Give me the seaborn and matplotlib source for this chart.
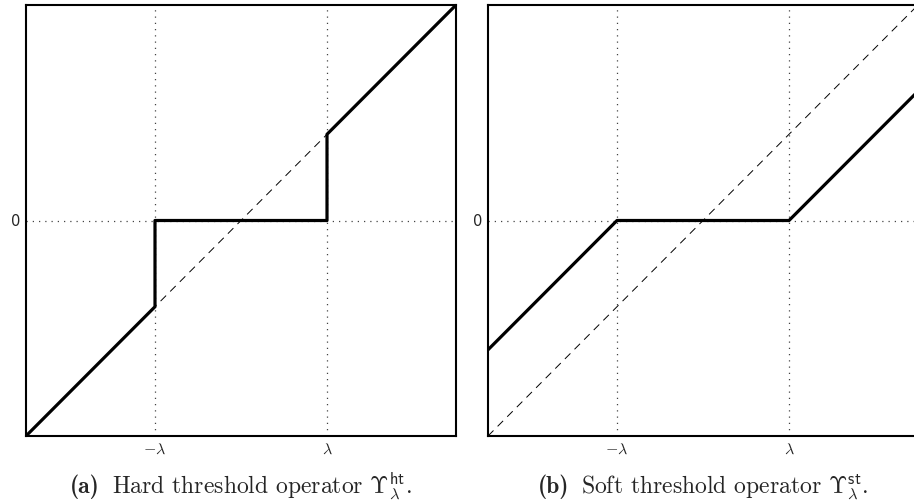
import numpy as np
import pandas as pd
import matplotlib
matplotlib.use("Agg")
import matplotlib.pyplot as plt
import seaborn as sns

# Threshold parameter and plotted input range
lam = 1.0
x_lo, x_hi = -2.5, 2.5

# Hard threshold operator: breakpoints of the piecewise curve
hard_x = [-2.5, -1.0, -1.0, 1.0, 1.0, 2.5]
hard_y = [-2.5, -1.0, 0.0, 0.0, 1.0, 2.5]

# Soft threshold operator: breakpoints of the piecewise curve
soft_x = [-2.5, -1.0, 1.0, 2.5]
soft_y = [-1.5, 0.0, 0.0, 1.5]

# Identity reference line
ident_x = [-2.5, 2.5]
ident_y = [-2.5, 2.5]

xtick_vals = [-lam, lam]
xtick_labels = [r"$-\lambda$", r"$\lambda$"]
ytick_vals = [0]
ytick_labels = ["0"]

caption_tags = ["(a)", "(b)"]
caption_texts = [
    r"Hard threshold operator $\Upsilon^{\mathsf{ht}}_{\lambda}$.",
    r"Soft threshold operator $\Upsilon^{\mathsf{st}}_{\lambda}$.",
]

sns.set_style("white")
plt.rcParams["mathtext.fontset"] = "cm"
plt.rcParams["font.family"] = ["DejaVu Sans"]
plt.rcParams["axes.unicode_minus"] = False

W, H = 914, 501
fig = plt.figure(figsize=(W / 100, H / 100), dpi=100)

panels = [
    (26, pd.DataFrame({"x": hard_x, "y": hard_y})),
    (488, pd.DataFrame({"x": soft_x, "y": soft_y})),
]
top_px, bot_px, size_px = 5, 436, 430

cap_pairs = []
for i, (left_px, df) in enumerate(panels):
    ax = fig.add_axes([left_px / W, (H - bot_px) / H, size_px / W, (bot_px - top_px) / H])
    ax.set_xlim(x_lo, x_hi)
    ax.set_ylim(x_lo, x_hi)

    # dotted guide lines at the thresholds and zero
    for xv in xtick_vals:
        ax.axvline(xv, color="#444444", lw=0.9, ls=(0, (1, 4)), zorder=1)
    ax.axhline(0, color="#444444", lw=0.9, ls=(0, (1, 4)), zorder=1)

    ident = pd.DataFrame({"x": ident_x, "y": ident_y})
    sns.lineplot(data=ident, x="x", y="y", ax=ax, color="black", lw=0.7,
                 estimator=None, sort=False, zorder=2)
    ax.lines[-1].set_linestyle((0, (8, 6)))
    sns.lineplot(data=df, x="x", y="y", ax=ax, color="black", lw=2.3,
                 estimator=None, sort=False, zorder=3)

    ax.set_xticks(xtick_vals)
    ax.set_xticklabels(xtick_labels, fontsize=11.5)
    ax.set_yticks(ytick_vals)
    ax.set_yticklabels(ytick_labels, fontsize=10.5)
    ax.tick_params(direction="in", length=4, width=0.8, color="black", pad=4)
    ax.set_xlabel("")
    ax.set_ylabel("")
    for sp in ax.spines.values():
        sp.set_color("black")
        sp.set_linewidth(1.5)

    # caption: bold tag followed by roman text, centred under the panel
    t1 = fig.text(0, 0, caption_tags[i], family="cmb10", fontsize=17,
                  ha="left", va="baseline")
    t2 = fig.text(0, 0, caption_texts[i], family="cmr10", fontsize=17,
                  ha="left", va="baseline")
    cap_pairs.append((left_px + size_px / 2, t1, t2))

fig.canvas.draw()
renderer = fig.canvas.get_renderer()
gap = 12
base = 1 - 493 / H
for cx, t1, t2 in cap_pairs:
    w1 = t1.get_window_extent(renderer).width
    w2 = t2.get_window_extent(renderer).width
    start = cx - (w1 + gap + w2) / 2
    t1.set_position((start / W, base))
    t2.set_position(((start + w1 + gap) / W, base))

fig.savefig("out.png", dpi=100)
